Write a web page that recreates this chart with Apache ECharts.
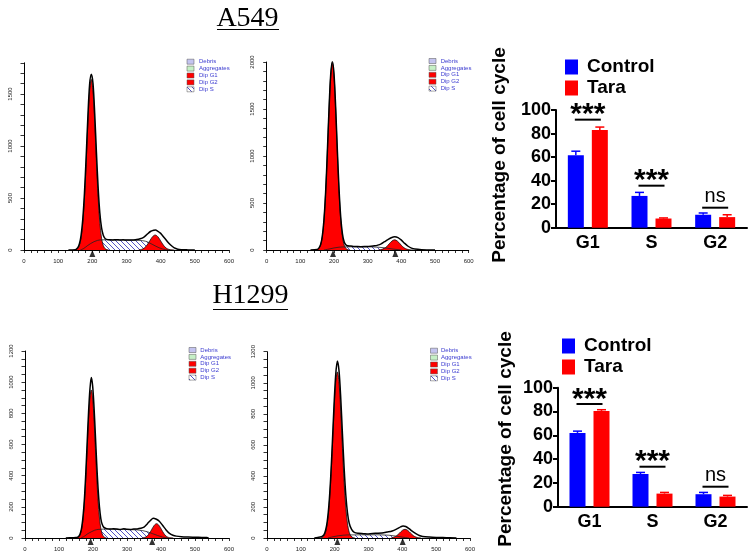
<!DOCTYPE html>
<html><head><meta charset="utf-8">
<script src="https://cdn.jsdelivr.net/npm/echarts@6/dist/echarts.min.js"></script>
<style>html,body{margin:0;padding:0;background:#fff}#c{width:756px;height:557px}</style>
</head><body><div id="c"></div>
<script>
// ---------------- DATA ----------------
// Flow-cytometry histograms: [DNA content channel, count]
const a549CtrlG1 = [[150,0],[152,4],[157,14],[162,44],[167,114],[172,258],[177,502],[182,843],[187,1220],[192,1524],[197,1640],[202,1524],[207,1220],[212,843],[217,502],[222,258],[227,114],[232,44],[237,14],[242,4],[248,0]];
const a549CtrlG2 = [[336,2],[344,6],[352,19],[360,47],[368,87],[376,127],[384,144],[392,127],[400,87],[408,47],[416,19],[424,6],[432,2],[440,0]];
const a549CtrlS = [[165,0],[175,15],[185,40],[195,62],[205,80],[215,92],[225,97],[240,98],[260,96],[280,97],[300,95],[320,94],[340,92],[355,85],[365,72],[375,55],[385,38],[395,22],[405,10],[415,3],[425,0]];
const a549CtrlTotal = [[130,0],[150,2],[152,6],[157,20],[162,58],[167,138],[172,295],[177,550],[182,900],[187,1285],[192,1590],[197,1690],[202,1600],[207,1310],[212,940],[217,600],[222,355],[227,212],[232,142],[237,112],[242,102],[250,98],[260,97],[270,99],[280,96],[290,98],[300,95],[310,96],[320,97],[330,100],[340,108],[350,122],[360,150],[370,178],[380,190],[385,192],[390,185],[400,160],[410,120],[420,80],[430,45],[440,20],[450,8],[460,3],[480,1],[500,0]];
const a549CtrlMarks = [200];

const a549TaraG1 = [[145,0],[150,5],[155,18],[160,53],[165,139],[170,313],[175,609],[180,1023],[185,1480],[190,1849],[195,1990],[200,1849],[205,1480],[210,1023],[215,609],[220,313],[225,139],[230,53],[235,18],[240,5],[245,0]];
const a549TaraG2 = [[332,1],[340,5],[348,15],[356,35],[364,66],[372,95],[380,108],[388,95],[396,66],[404,35],[412,15],[420,5],[428,1],[436,0]];
const a549TaraS = [[170,0],[185,10],[200,22],[215,30],[230,33],[250,34],[270,33],[290,32],[310,33],[330,30],[345,25],[360,18],[375,10],[390,4],[400,0]];
const a549TaraTotal = [[130,0],[150,6],[155,20],[160,56],[165,143],[170,318],[175,615],[180,1030],[185,1490],[190,1860],[195,2005],[200,1870],[205,1505],[210,1050],[215,640],[220,345],[225,172],[230,88],[235,55],[240,45],[250,42],[260,38],[270,36],[280,35],[290,36],[300,38],[310,40],[320,44],[330,52],[340,66],[350,88],[360,110],[370,130],[380,140],[390,132],[400,105],[410,70],[420,40],[430,20],[440,10],[460,3],[480,1],[500,0]];
const a549TaraMarks = [197, 382];

const h1299CtrlG1 = [[150,0],[155,4],[159,10],[163,27],[167,62],[171,128],[175,236],[179,391],[183,576],[187,760],[191,899],[195,950],[199,899],[203,760],[207,576],[211,391],[215,236],[219,128],[223,62],[227,27],[231,10],[235,4],[240,0]];
const h1299CtrlG2 = [[345,1],[352,4],[359,12],[366,30],[373,56],[380,81],[387,92],[394,81],[401,56],[408,30],[415,12],[422,4],[429,1],[436,0]];
const h1299CtrlS = [[165,0],[175,12],[185,28],[195,40],[205,50],[215,55],[230,57],[250,56],[270,55],[290,55],[310,54],[330,52],[345,48],[360,40],[375,28],[390,16],[405,6],[420,0]];
const h1299CtrlTotal = [[120,0],[140,2],[150,3],[155,6],[159,13],[163,32],[167,72],[171,145],[175,260],[179,425],[183,620],[187,810],[191,955],[195,1030],[199,975],[203,840],[207,660],[211,475],[215,315],[219,200],[223,125],[227,88],[232,68],[240,60],[250,57],[260,60],[270,58],[280,55],[290,59],[300,56],[310,55],[320,57],[330,58],[340,62],[350,70],[360,92],[370,115],[377,126],[385,122],[395,108],[405,80],[415,52],[425,30],[435,18],[445,12],[460,8],[480,6],[500,5],[520,4],[535,3],[540,0]];
const h1299CtrlMarks = [193, 374];

const h1299TaraG1 = [[158,0],[163,4],[168,13],[173,37],[178,91],[183,193],[188,357],[193,577],[198,813],[203,999],[208,1070],[213,999],[218,813],[223,577],[228,357],[233,193],[238,91],[243,37],[248,13],[253,4],[260,0]];
const h1299TaraG2 = [[368,2],[376,6],[384,16],[392,32],[400,49],[408,56],[416,49],[424,32],[432,16],[440,6],[448,2],[456,0]];
const h1299TaraS = [[180,0],[195,8],[210,14],[225,18],[240,20],[260,20],[280,21],[300,20],[320,21],[340,20],[360,18],[375,14],[390,9],[405,4],[420,0]];
const h1299TaraTotal = [[140,0],[150,4],[160,8],[163,10],[168,20],[173,48],[178,105],[183,212],[188,380],[193,605],[198,850],[203,1050],[208,1140],[213,1075],[218,900],[223,670],[228,450],[233,275],[238,160],[243,95],[250,55],[258,36],[270,30],[285,28],[300,26],[320,30],[340,32],[355,38],[370,45],[385,60],[395,72],[402,77],[410,74],[420,60],[430,42],[440,28],[450,16],[460,10],[480,6],[500,4],[520,3],[540,1],[560,0]];
const h1299TaraMarks = [208, 401];

const histLegendNames = ['Debris', 'Aggregates', 'Dip G1', 'Dip G2', 'Dip S'];

// Bar charts
const categories = ['G1', 'S', 'G2'];
const groupNames = ['Control', 'Tara'];
const a549Control = [61.5, 27, 11];
const a549ControlErr = [3.5, 3, 1.5];
const a549Tara = [83, 7.8, 9];
const a549TaraErr = [2.5, 0.5, 2];
const h1299Control = [62, 27.5, 10.5];
const h1299ControlErr = [1.5, 1.3, 1.5];
const h1299Tara = [80.5, 11, 8.5];
const h1299TaraErr = [1, 1, 1];
const sigLabels = ['***', '***', 'ns'];
const a549SigY = [91.8, 35.7, 17];
const h1299SigY = [86.3, 33.6, 16.8];

// ---------------- CHART ----------------
const FONT = 'Liberation Sans, Arial, sans-serif';
const pat = document.createElement('canvas');
pat.width = 5; pat.height = 5;
(function(){
  const g = pat.getContext('2d');
  g.strokeStyle = '#4040c0'; g.lineWidth = 0.9;
  g.beginPath();
  g.moveTo(0,0); g.lineTo(5,5);
  g.moveTo(-1,4); g.lineTo(1,6);
  g.moveTo(4,-1); g.lineTo(6,1);
  g.stroke();
})();
const hatch = {image: pat, repeat: 'repeat'};

const hists = [
  {grid:{left:24, top:62.8, width:205, height:187.2}, max:1800, step:100, lab:500,
   d:{g1:a549CtrlG1, g2:a549CtrlG2, s:a549CtrlS, t:a549CtrlTotal, m:a549CtrlMarks}, leg:[187, 61.7, 199]},
  {grid:{left:266.7, top:62, width:202, height:188}, max:2000, step:100, lab:500,
   d:{g1:a549TaraG1, g2:a549TaraG2, s:a549TaraS, t:a549TaraTotal, m:a549TaraMarks}, leg:[429, 61, 440.7]},
  {grid:{left:25, top:351, width:204, height:187}, max:1200, step:50, lab:200,
   d:{g1:h1299CtrlG1, g2:h1299CtrlG2, s:h1299CtrlS, t:h1299CtrlTotal, m:h1299CtrlMarks}, leg:[189, 350, 200.3]},
  {grid:{left:267, top:351.7, width:203, height:186.3}, max:1200, step:50, lab:200,
   d:{g1:h1299TaraG1, g2:h1299TaraG2, s:h1299TaraS, t:h1299TaraTotal, m:h1299TaraMarks}, leg:[430.5, 350.7, 441]}
];

const grids = [], xAxes = [], yAxes = [], series = [], graphics = [];

hists.forEach((h, k) => {
  grids.push(Object.assign({outerBoundsMode:'none', containLabel:false}, h.grid));
  xAxes.push({gridIndex:k, type:'value', min:0, max:600, interval:20,
    axisLine:{show:true, onZero:false, lineStyle:{color:'#000', width:1}},
    axisTick:{show:true, length:3, lineStyle:{color:'#000', width:0.8}},
    axisLabel:{show:true, fontSize:6, color:'#222', fontFamily:FONT, margin:8,
      formatter: v => (v % 100 === 0 ? String(v) : '')},
    splitLine:{show:false}});
  yAxes.push({gridIndex:k, type:'value', min:0, max:h.max, interval:h.step,
    axisLine:{show:true, onZero:false, lineStyle:{color:'#000', width:1}},
    axisTick:{show:true, length:3.5, lineStyle:{color:'#000', width:0.8}},
    axisLabel:{show:true, fontSize:6, color:'#222', fontFamily:FONT, rotate:90, margin:11,
      formatter: v => (v % h.lab === 0 ? String(v) : '')},
    splitLine:{show:false}});
  const base = {type:'line', xAxisIndex:k, yAxisIndex:k, symbol:'none', silent:true, animation:false};
  series.push(Object.assign({}, base, {data:h.d.s, smooth:0.35, lineStyle:{width:0, opacity:0}, areaStyle:{color:hatch, opacity:1}, z:1}));
  series.push(Object.assign({}, base, {data:h.d.g1, smooth:0.35, lineStyle:{color:'#111', width:0.8}, areaStyle:{color:'#ff0000', opacity:1}, z:2}));
  series.push(Object.assign({}, base, {data:h.d.g2, smooth:0.35, lineStyle:{color:'#111', width:0.8}, areaStyle:{color:'#ff0000', opacity:1}, z:2}));
  series.push(Object.assign({}, base, {data:h.d.s, smooth:0.35, lineStyle:{color:'#222', width:0.8}, z:3}));
  series.push(Object.assign({}, base, {data:h.d.t, smooth:0.3, lineStyle:{color:'#000', width:1.5}, z:4}));
  series.push({type:'scatter', xAxisIndex:k, yAxisIndex:k, silent:true, animation:false, clip:false,
    data:h.d.m.map(x => [x, 0]), symbol:'triangle', symbolSize:[6,7], symbolOffset:[0,3.5],
    itemStyle:{color:'#000'}, z:5});
  const fills = ['#c4c4f0', '#c6f0c6', '#ff0000', '#ff0000', hatch];
  histLegendNames.forEach((nm, i) => {
    const cy = h.leg[1] + i * 6.9;
    graphics.push({type:'rect', shape:{x:h.leg[0], y:cy - 2.5, width:7, height:5},
      style:{fill:fills[i], stroke:'#555', lineWidth:0.5}, silent:true});
    graphics.push({type:'text', x:h.leg[2], y:cy,
      style:{text:nm, font:'6px ' + FONT, fill:'#3a3ad0', textAlign:'left', textVerticalAlign:'middle'}, silent:true});
  });
});

// Bar charts
const bars = [
  {grid:{left:556, top:110, width:191, height:117.7}, c:a549Control, ce:a549ControlErr, t:a549Tara, te:a549TaraErr, sig:a549SigY,
   legend:{left:565, top:57.5}, title:[500, 155]},
  {grid:{left:558, top:387.7, width:189, height:119}, c:h1299Control, ce:h1299ControlErr, t:h1299Tara, te:h1299TaraErr, sig:h1299SigY,
   legend:{left:562, top:336.5}, title:[506, 439]}
];

function errItem(offset, color) {
  return function(params, api) {
    const cat = api.value(0), v = api.value(1), e = api.value(2);
    const p0 = api.coord([cat, v]);
    const p1 = api.coord([cat, v + e]);
    const x = p0[0] + offset;
    return {type:'group', children:[
      {type:'line', shape:{x1:x, y1:p0[1], x2:x, y2:p1[1]}, style:{stroke:color, lineWidth:1.5}},
      {type:'line', shape:{x1:x - 4.5, y1:p1[1], x2:x + 4.5, y2:p1[1]}, style:{stroke:color, lineWidth:1.5}}
    ]};
  };
}
function sigItem(params, api) {
  const cat = api.value(0), y = api.value(1);
  const lab = sigLabels[params.dataIndex];
  const p = api.coord([cat, y]);
  const isStar = lab.indexOf('*') >= 0;
  return {type:'group', children:[
    {type:'line', shape:{x1:p[0] - 13, y1:p[1], x2:p[0] + 13, y2:p[1]}, style:{stroke:'#000', lineWidth:2}},
    {type:'text', x:p[0], y: isStar ? p[1] - 4.5 : p[1] - 11.5,
     style:{text:lab, font: isStar ? 'bold 30px ' + FONT : '20px ' + FONT, fill:'#000', textAlign:'center', textVerticalAlign:'middle'}}
  ]};
}

const legends = [];
bars.forEach((b, j) => {
  const k = 4 + j;
  grids.push(Object.assign({outerBoundsMode:'none', containLabel:false}, b.grid));
  xAxes.push({gridIndex:k, type:'category', data:categories,
    axisLine:{show:true, lineStyle:{color:'#000', width:2}},
    axisTick:{show:false},
    axisLabel:{fontSize:18, fontWeight:'bold', color:'#000', fontFamily:FONT, margin:6}});
  yAxes.push({gridIndex:k, type:'value', min:0, max:100, interval:20,
    axisLine:{show:true, lineStyle:{color:'#000', width:2}},
    axisTick:{show:true, length:5, lineStyle:{color:'#000', width:2}},
    axisLabel:{fontSize:18, fontWeight:'bold', color:'#000', fontFamily:FONT, margin:5},
    splitLine:{show:false}});
  series.push({type:'bar', name:groupNames[0], xAxisIndex:k, yAxisIndex:k, data:b.c, barWidth:16, barGap:'50%',
    itemStyle:{color:'#0000ff'}, animation:false});
  series.push({type:'bar', name:groupNames[1], xAxisIndex:k, yAxisIndex:k, data:b.t, barWidth:16, barGap:'50%',
    itemStyle:{color:'#ff0000'}, animation:false});
  series.push({type:'custom', xAxisIndex:k, yAxisIndex:k, data:b.c.map((v, i) => [i, v, b.ce[i]]),
    renderItem:errItem(-12, '#0000ff'), z:4, animation:false, silent:true});
  series.push({type:'custom', xAxisIndex:k, yAxisIndex:k, data:b.t.map((v, i) => [i, v, b.te[i]]),
    renderItem:errItem(12, '#ff0000'), z:4, animation:false, silent:true});
  series.push({type:'custom', xAxisIndex:k, yAxisIndex:k, data:b.sig.map((v, i) => [i, v]),
    renderItem:sigItem, z:5, animation:false, silent:true, clip:false});
  legends.push({data:groupNames, orient:'vertical', left:b.legend.left, top:b.legend.top, padding:0,
    itemWidth:13, itemHeight:15, itemGap:2, icon:'rect', selectedMode:false,
    textStyle:{fontSize:19, fontWeight:'bold', color:'#000', fontFamily:FONT, lineHeight:18, padding:[0,0,0,4]}});
  graphics.push({type:'text', x:b.title[0], y:b.title[1], rotation:Math.PI / 2,
    style:{text:'Percentage of cell cycle', font:'bold 19px ' + FONT, fill:'#000', textAlign:'center', textVerticalAlign:'middle'}});
});

// Panel titles
graphics.push({type:'text', x:247.5, y:18.5, style:{text:'A549', font:'28px Liberation Serif, Times New Roman, serif', fill:'#000', textAlign:'center', textVerticalAlign:'middle'}});
graphics.push({type:'line', shape:{x1:217, y1:29.5, x2:279, y2:29.5}, style:{stroke:'#000', lineWidth:1}});
graphics.push({type:'text', x:250.5, y:296, style:{text:'H1299', font:'28px Liberation Serif, Times New Roman, serif', fill:'#000', textAlign:'center', textVerticalAlign:'middle'}});
graphics.push({type:'line', shape:{x1:213, y1:309.5, x2:288, y2:309.5}, style:{stroke:'#000', lineWidth:1}});

const chart = echarts.init(document.getElementById('c'), null, {renderer:'canvas', width:756, height:557});
chart.setOption({
  backgroundColor:'#fff',
  animation:false,
  textStyle:{fontFamily:FONT},
  grid:grids, xAxis:xAxes, yAxis:yAxes, series:series,
  legend:legends,
  graphic:graphics
});
</script></body></html>
